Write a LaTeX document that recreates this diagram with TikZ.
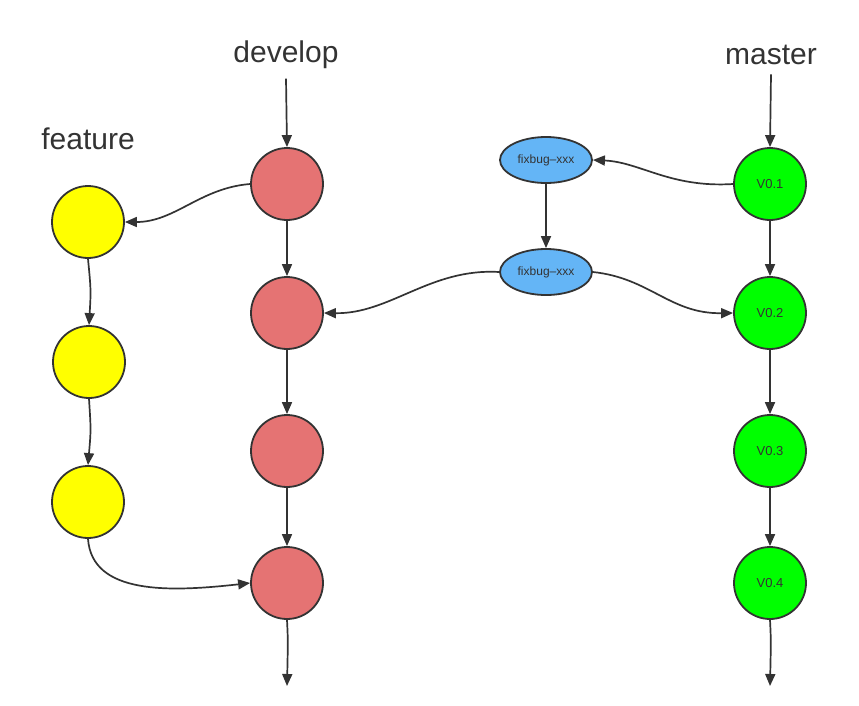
\documentclass[tikz,border=0pt]{standalone}
\usepackage{fontspec}
\setmainfont{Liberation Sans}
\usetikzlibrary{arrows.meta,shapes.geometric}
\definecolor{lc}{HTML}{333333}
\definecolor{devred}{HTML}{E57373}
\definecolor{featyel}{HTML}{FFFF00}
\definecolor{mastgrn}{HTML}{00FF00}
\definecolor{fixblue}{HTML}{64B5F6}
\tikzset{
  commit/.style={circle, draw=lc, line width=1.8pt, minimum size=72pt, inner sep=0pt},
  devnode/.style={commit, fill=devred},
  featnode/.style={commit, fill=featyel},
  mastnode/.style={commit, fill=mastgrn, font=\fontsize{13}{15}\selectfont, text=lc},
  fixnode/.style={ellipse, draw=lc, line width=1.8pt, fill=fixblue, minimum width=92pt, minimum height=46pt, inner sep=0pt, font=\fontsize{12}{14}\selectfont, text=lc},
  branchlabel/.style={font=\fontsize{30}{35}\selectfont, text=lc},
  link/.style={draw=lc, line width=1.7pt, -{Triangle[length=12pt,width=10pt]}}
}
\begin{document}
\begin{tikzpicture}[x=1pt,y=-1pt]
\useasboundingbox (0,0) rectangle (859,705);
% labels
\node[branchlabel] (ldev) at (286,55) {develop};
\node[branchlabel] (lmas) at (771,55) {master};
\node[branchlabel] (lfeat) at (88,139) {feature};
% develop
\node[devnode] (d1) at (287,184) {};
\node[devnode] (d2) at (287,313) {};
\node[devnode] (d3) at (287,451) {};
\node[devnode] (d4) at (287,583) {};
\coordinate (dend) at (287,686);
% feature
\node[featnode] (f1) at (88,222) {};
\node[featnode] (f2) at (89,362) {};
\node[featnode] (f3) at (88,502) {};
% master
\node[mastnode] (m1) at (770,184) {V0.1};
\node[mastnode] (m2) at (770,313) {V0.2};
\node[mastnode] (m3) at (770,451) {V0.3};
\node[mastnode] (m4) at (770,583) {V0.4};
\coordinate (mend) at (770,686);
% fixbug
\node[fixnode] (fb1) at (546,160) {fixbug–xxx};
\node[fixnode] (fb2) at (546,272) {fixbug–xxx};
% connectors
\draw[link] (ldev.south) ++(0,6) -- (d1.north);
\draw[link] (lmas.south) ++(0,6) -- (m1.north);
\draw[link] (d1) -- (d2);
\draw[link] (d2) -- (d3);
\draw[link] (d3) -- (d4);
\draw[link] (d4.south) .. controls (288,640) .. (dend);
\draw[link] (m1) -- (m2);
\draw[link] (m2) -- (m3);
\draw[link] (m3) -- (m4);
\draw[link] (m4.south) .. controls (771,640) .. (mend);
\draw[link] (f1.south) .. controls (91,290) .. (f2.north);
\draw[link] (f2.south) .. controls (91,430) .. (f3.north);
\draw[link] (d1.west) .. controls (200,188) and (175,222) .. (f1.east);
\draw[link] (f3.south) .. controls (92,595) and (170,592) .. (d4.west);
\draw[link] (m1.west) .. controls (670,188) and (640,162) .. (fb1.east);
\draw[link] (fb1) -- (fb2);
\draw[link] (fb2.west) .. controls (430,268) and (390,314) .. (d2.east);
\draw[link] (fb2.east) .. controls (650,278) and (670,314) .. (m2.west);
\end{tikzpicture}
\end{document}
